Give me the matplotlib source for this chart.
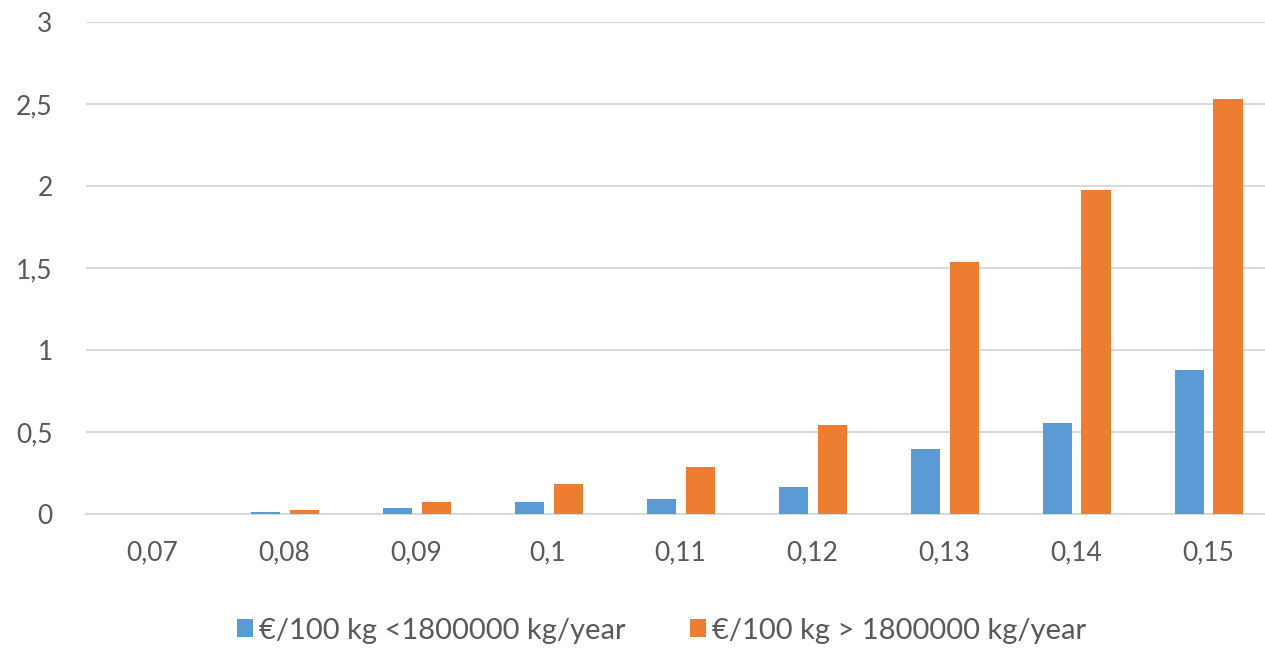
import matplotlib

matplotlib.use("Agg")
import matplotlib.pyplot as plt
import numpy as np

plt.rcParams["font.family"] = ["Lato", "DejaVu Sans"]

categories = ["0,07", "0,08", "0,09", "0,1", "0,11", "0,12", "0,13", "0,14", "0,15"]
below_limit = [0.0, 0.015, 0.04, 0.075, 0.095, 0.165, 0.40, 0.555, 0.88]
above_limit = [0.0, 0.028, 0.075, 0.185, 0.285, 0.545, 1.54, 1.975, 2.53]
y_ticks = [0, 0.5, 1, 1.5, 2, 2.5, 3]
y_labels = ["0", "0,5", "1", "1,5", "2", "2,5", "3"]

blue = "#5B9BD5"
orange = "#ED7D31"
grey_text = "#595959"

fig = plt.figure(figsize=(12.65, 6.5), dpi=100)
# the last category runs a little past the right edge of the canvas
ax = fig.add_axes([0.068, 0.209, 0.939, 0.757])

x = np.arange(len(categories))
w = 0.225
ax.bar(x - 0.14, below_limit, w, color=blue, label="€/100 kg <1800000 kg/year", zorder=3)
ax.bar(x + 0.155, above_limit, w, color=orange, label="€/100 kg > 1800000 kg/year", zorder=3)

ax.set_xlim(-0.5, len(categories) - 0.5)
ax.set_ylim(0, 3)
ax.set_yticks(y_ticks)
ax.set_yticklabels(y_labels)
ax.set_xticks(x)
ax.set_xticklabels(categories)
ax.tick_params(axis="both", length=0, labelsize=19, colors=grey_text)
ax.tick_params(axis="x", pad=19)
ax.tick_params(axis="y", pad=24)
ax.grid(axis="y", color="#D9D9D9", linewidth=1.5, zorder=0)
for side in ("top", "right", "left"):
    ax.spines[side].set_visible(False)
ax.spines["bottom"].set_color("#D9D9D9")
ax.spines["bottom"].set_linewidth(1.5)

fig.legend(
    loc="center",
    bbox_to_anchor=(0.523, 0.03),
    ncol=2,
    frameon=False,
    fontsize=21,
    labelcolor=grey_text,
    handlelength=0.55,
    handleheight=0.55,
    handletextpad=0.2,
    columnspacing=2.2,
)

fig.savefig("out.png", dpi=100)
